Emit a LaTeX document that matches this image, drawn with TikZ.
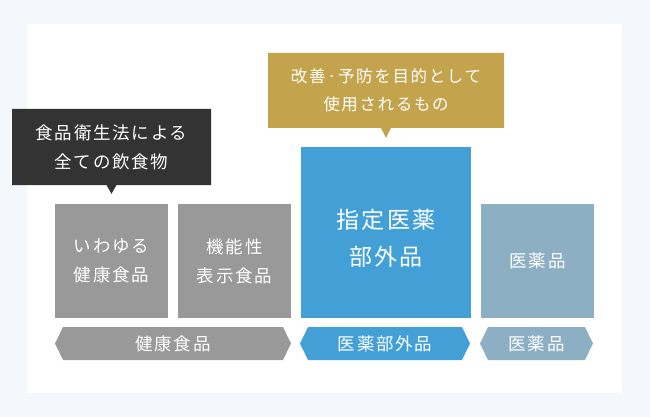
\documentclass[tikz,border=0pt]{standalone}
\usepackage{fontspec}
\newfontfamily\jpfont[LetterSpace=10]{Noto Sans CJK JP}
\usetikzlibrary{shapes.callouts,shapes.symbols,calc}
\definecolor{pagebg}{HTML}{F4F8FC}
\definecolor{foodgray}{HTML}{999999}
\definecolor{quasiblue}{HTML}{42A0D6}
\definecolor{drugslate}{HTML}{8CAFC4}
\definecolor{notedark}{HTML}{333333}
\definecolor{notegold}{HTML}{C3A44D}
\begin{document}
\begin{tikzpicture}[x=1pt,y=1pt,yscale=-1,
    font=\jpfont\fontsize{17.5}{29}\selectfont,
    box/.style={minimum width=113pt,minimum height=114pt,inner sep=0pt,text=white,align=center},
    tag/.style={signal,signal to=west and east,signal pointer angle=128,minimum height=33pt,inner sep=0pt,text=white},
    note/.style={rectangle callout,callout pointer width=10pt,inner sep=0pt,text=white,align=center,minimum height=76pt}]
  \fill[pagebg] (0,0) rectangle (650,417);
  \fill[white] (27,24) rectangle (622,393);
  % upper row
  \node[box,fill=foodgray] (general) at (111.5,261) {いわゆる\\健康食品};
  \node[box,fill=foodgray] (labelled) at (234.5,261) {機能性\\表示食品};
  \node[box,fill=quasiblue,minimum width=170pt,minimum height=171pt] (designated) at (386,232.5) {};
  \node[text=white,align=center,font=\jpfont\fontsize{23}{37}\selectfont] (designatedtext)
    at ($(designated)+(0,6)$) {指定医薬\\部外品};
  \node[box,fill=drugslate] (drug) at (537.5,261) {医薬品};
  % bars
  \node[tag,fill=foodgray,minimum width=236pt] (foodbar) at (173,343.5) {健康食品};
  \node[tag,fill=quasiblue,minimum width=170pt] (quasibar) at (385,343.5) {医薬部外品};
  \node[tag,fill=drugslate,minimum width=113pt] (drugbar) at (536.5,343.5) {医薬品};
  % callouts
  \node[note,fill=notedark,minimum width=199pt,
    callout absolute pointer={($(general.north)+(0,-10)$)}] (allfood) at (111.5,147) {食品衛生法による\\全ての飲食物};
  \node[note,fill=notegold,minimum width=236pt,minimum height=75pt,
    font=\jpfont\fontsize{16.5}{28}\selectfont,
    callout absolute pointer={($(designated.north)+(0,-9)$)}] (purpose) at (386,90.5) {改善·予防を目的として\\使用されるもの};
\end{tikzpicture}
\end{document}
